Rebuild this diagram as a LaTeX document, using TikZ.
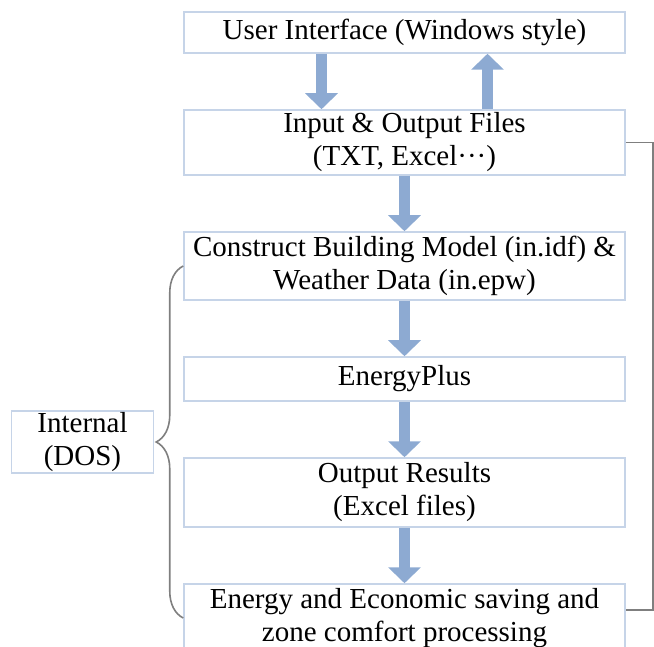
\documentclass[tikz,border=0pt]{standalone}
\usepackage{fontspec}
\setmainfont{Liberation Serif}
\usetikzlibrary{positioning}
\usetikzlibrary{arrows.meta}
\usetikzlibrary{calc}
\usetikzlibrary{decorations.pathreplacing}
\definecolor{boxline}{HTML}{C6D4E8}
\definecolor{arrowblue}{HTML}{8DAAD2}
\definecolor{linkgray}{HTML}{7F7F7F}

\begin{document}
\begin{tikzpicture}[node distance=55.5pt,
    box/.style={draw=boxline, line width=1.5pt, fill=white, minimum width=441pt, inner sep=2pt, align=center, font=\fontsize{29}{33}\selectfont},
    flow/.style={arrowblue, line width=11pt, -{Triangle[width=32pt, length=16pt]}},
    link/.style={linkgray, line width=1.6pt}]
    \useasboundingbox (0,0) rectangle (654pt,-647pt);
    \clip (0,0) rectangle (654pt,-647pt);
    \node[box, minimum height=41pt] (ui) at (404.5pt,-32.5pt) {User Interface (Windows style)};
    \node[box, minimum height=65pt, below=of ui] (io) {Input \& Output Files\\(TXT, Excel···)};
    \node[box, minimum height=68pt, below=of io] (mod) {Construct Building Model (in.idf) \&\\Weather Data (in.epw)};
    \node[box, minimum height=44pt, below=of mod] (eplus) {EnergyPlus};
    \node[box, minimum height=69pt, below=of eplus] (res) {Output Results\\(Excel files)};
    \node[box, minimum height=68pt, below=of res] (ee) {Energy and Economic saving and\\zone comfort processing};
    % block arrows
    \draw[flow] ([xshift=-83pt]ui.south) -- ([xshift=-83pt]io.north);
    \draw[flow] ([xshift=83pt]io.north) -- ([xshift=83pt]ui.south);
    \draw[flow] (io) -- (mod);
    \draw[flow] (mod) -- (eplus);
    \draw[flow] (eplus) -- (res);
    \draw[flow] (res) -- (ee);
    % feedback line and brace
    \draw[link] (io.east) -- ++(27pt,0) |- ([yshift=8pt]ee.east);
    \draw[link, decorate, decoration={brace, amplitude=27pt}] (ee.west) -- (mod.west);
    \coordinate (tip) at ($(mod.west)!0.5!(ee.west)+(-27pt,0)$);
    \node[box, minimum width=142pt, minimum height=62pt, inner sep=0pt, left=2pt of tip] (dos) {Internal\\(DOS)};
\end{tikzpicture}
\end{document}
